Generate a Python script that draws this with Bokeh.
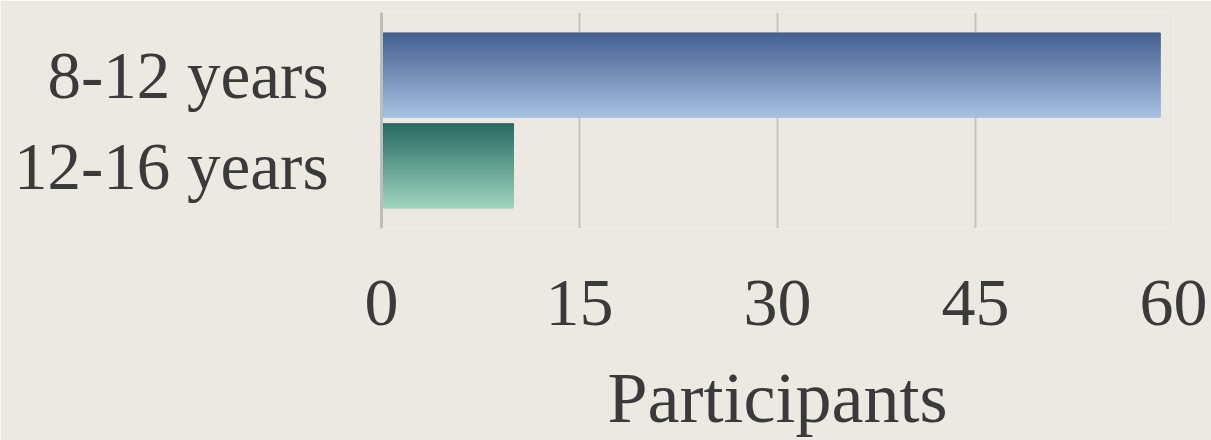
from bokeh.plotting import figure
from bokeh.models import Range1d, FixedTicker
from bokeh.embed import file_html
from bokeh.resources import INLINE

# ---- data ----
categories = ["8-12 years", "12-16 years"]
participants = [59, 10]
x_ticks = [0, 15, 30, 45, 60]
x_title = "Participants"

# gradient colours (top -> bottom) per bar
top_colors = ["#466090", "#286a62"]
bottom_colors = ["#a7c1e3", "#9ed6bf"]

BG = "#ece9e3"
TEXT = "#3a3a3a"
FONT = "Liberation Serif"


def hex2rgb(h):
    h = h.lstrip("#")
    return tuple(int(h[i:i + 2], 16) for i in (0, 2, 4))


def mix(c1, c2, t):
    a, b = hex2rgb(c1), hex2rgb(c2)
    return "#%02x%02x%02x" % tuple(round(a[k] + (b[k] - a[k]) * t) for k in range(3))


n = len(categories)
ypos = [n - i - 0.5 for i in range(n)]

p = figure(width=1211, height=440, output_backend="svg", toolbar_location=None,
           x_range=Range1d(0, 60), y_range=Range1d(-0.19, 2.19),
           min_border_left=381, min_border_right=38, min_border_top=12,
           min_border_bottom=210)
p.background_fill_color = BG
p.border_fill_color = BG
p.outline_line_color = None

# gradient bars built from thin slices
bar_h = 0.93
N = 48
for i, (cat, val) in enumerate(zip(categories, participants)):
    y0 = ypos[i] - bar_h / 2
    lefts, rights, bottoms, tops, cols = [], [], [], [], []
    for k in range(N):
        lefts.append(0)
        rights.append(val)
        bottoms.append(y0 + k * bar_h / N)
        tops.append(y0 + (k + 1) * bar_h / N)
        cols.append(mix(bottom_colors[i], top_colors[i], (k + 0.5) / N))
    p.quad(left=lefts, right=rights, bottom=bottoms, top=tops,
           fill_color=cols, line_color=cols, line_width=1)

# grid
p.ygrid.grid_line_color = None
p.xgrid.ticker = FixedTicker(ticks=x_ticks)
p.xgrid.grid_line_color = "#c4c4c4"
p.xgrid.grid_line_width = 2
p.xgrid.level = "underlay"

# x axis
p.xaxis.ticker = FixedTicker(ticks=x_ticks)
p.xaxis.axis_line_color = None
p.xaxis.major_tick_line_color = None
p.xaxis.minor_tick_line_color = None
p.xaxis.major_label_text_font = FONT
p.xaxis.major_label_text_font_size = "68px"
p.xaxis.major_label_text_color = TEXT
p.xaxis.major_label_standoff = 46
p.xaxis.axis_label = x_title
p.xaxis.axis_label_text_font = FONT
p.xaxis.axis_label_text_font_size = "72px"
p.xaxis.axis_label_text_font_style = "normal"
p.xaxis.axis_label_text_color = TEXT
p.xaxis.axis_label_standoff = 30

# y axis
p.yaxis.ticker = FixedTicker(ticks=ypos)
p.yaxis.major_label_overrides = {ypos[i]: categories[i] for i in range(n)}
p.yaxis.axis_line_color = "#bdbdbd"
p.yaxis.axis_line_width = 3
p.yaxis.major_tick_line_color = None
p.yaxis.minor_tick_line_color = None
p.yaxis.major_label_text_font = FONT
p.yaxis.major_label_text_font_size = "67px"
p.yaxis.major_label_text_color = TEXT
p.yaxis.major_label_standoff = 47

open("out.html", "w").write(file_html(p, INLINE))
